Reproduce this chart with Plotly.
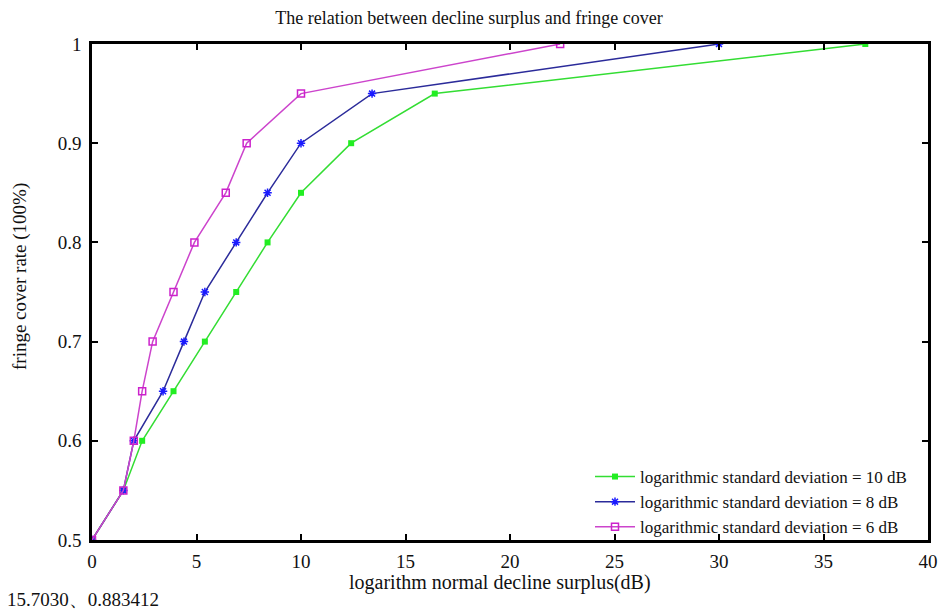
import plotly.graph_objects as go

# Data
y_levels = [0.5, 0.55, 0.6, 0.65, 0.7, 0.75, 0.8, 0.85, 0.9, 0.95, 1.0]
x_sd10 = [0, 1.5, 2.4, 3.9, 5.4, 6.9, 8.4, 10.0, 12.4, 16.4, 37.0]
x_sd8 = [0, 1.5, 2.0, 3.4, 4.4, 5.4, 6.9, 8.4, 10.0, 13.4, 30.0]
x_sd6 = [0, 1.5, 2.0, 2.4, 2.9, 3.9, 4.9, 6.4, 7.4, 10.0, 22.4]

names = [
    "logarithmic standard deviation = 10 dB",
    "logarithmic standard deviation = 8 dB",
    "logarithmic standard deviation = 6 dB",
]
x_ticks = [0, 5, 10, 15, 20, 25, 30, 35, 40]
y_ticks = [0.5, 0.6, 0.7, 0.8, 0.9, 1.0]
y_tick_text = ["0.5", "0.6", "0.7", "0.8", "0.9", "1"]

FONT = "Liberation Serif, Times New Roman, serif"
W, H = 938, 611
L, R, T, B = 92, 10, 44, 71
PW, PH = W - L - R, H - T - B

fig = go.Figure()
fig.add_trace(go.Scatter(
    x=x_sd10, y=y_levels, name=names[0], mode="lines+markers",
    line=dict(color="#33dd33", width=1.5),
    marker=dict(symbol="square", size=6, color="#22ee22"),
))
fig.add_trace(go.Scatter(
    x=x_sd8, y=y_levels, name=names[1], mode="lines+markers",
    line=dict(color="#2b2b9a", width=1.5),
    marker=dict(symbol="asterisk-open", size=7, color="#1a1aff",
                line=dict(color="#1a1aff", width=1.5)),
))
fig.add_trace(go.Scatter(
    x=x_sd6, y=y_levels, name=names[2], mode="lines+markers",
    line=dict(color="#cc44cc", width=1.5),
    marker=dict(symbol="square-open", size=7, color="#cc22cc",
                line=dict(color="#cc22cc", width=1.5)),
))

fig.update_layout(
    width=W, height=H,
    margin=dict(l=L, r=R, t=T, b=B, autoexpand=False),
    paper_bgcolor="white", plot_bgcolor="white",
    font=dict(family=FONT, color="#111111", size=16),
    title=dict(text="The relation between decline surplus and fringe cover",
               x=0.5, xanchor="center", y=1 - 18 / H, yanchor="middle",
               yref="container", font=dict(size=18, family=FONT, color="#111111")),
    showlegend=True,
    legend=dict(x=(912 - L) / PW, y=(H - B - 545) / PH, xanchor="right", yanchor="bottom",
                bgcolor="rgba(255,255,255,0)", font=dict(size=17, family=FONT),
                tracegroupgap=0, itemwidth=40),
    xaxis=dict(range=[0, 40], tickvals=x_ticks, ticks="inside", ticklen=6,
               tickwidth=2, tickcolor="black", showline=True, linecolor="black",
               linewidth=2.5, mirror="ticks", showgrid=False, zeroline=False,
               automargin=False,
               tickfont=dict(size=19, family=FONT), ticklabelstandoff=2),
    yaxis=dict(range=[0.5, 1.0], tickvals=y_ticks, ticktext=y_tick_text,
               ticks="inside", ticklen=6, tickwidth=2, tickcolor="black",
               showline=True, linecolor="black", linewidth=2.5, mirror="ticks",
               showgrid=False, zeroline=False, automargin=False,
               tickfont=dict(size=19, family=FONT), ticklabelstandoff=4),
)

# Axis titles
fig.add_annotation(
    text="logarithm normal decline surplus(dB)", xref="paper", yref="paper",
    x=(500 - L) / PW, y=(H - B - 582) / PH, xanchor="center", yanchor="middle",
    showarrow=False, font=dict(size=20, family=FONT, color="#111111"),
)
fig.add_annotation(
    text="fringe cover rate (100%)", xref="paper", yref="paper",
    x=(20 - L) / PW, y=(H - B - 277) / PH, xanchor="center", yanchor="middle",
    textangle=-90, showarrow=False, font=dict(size=19, family=FONT, color="#111111"),
)
# Cursor readout text at bottom-left
fig.add_annotation(
    text="15.7030、0.883412", xref="paper", yref="paper",
    x=(5 - L) / PW, y=(H - B - 599) / PH, xanchor="left", yanchor="middle",
    showarrow=False, font=dict(size=19, family=FONT, color="#111111"),
)

fig.write_html(
    "out.html",
    config={"displayModeBar": False},
    post_script="document.body.style.margin='0';document.body.style.padding='0';",
)
